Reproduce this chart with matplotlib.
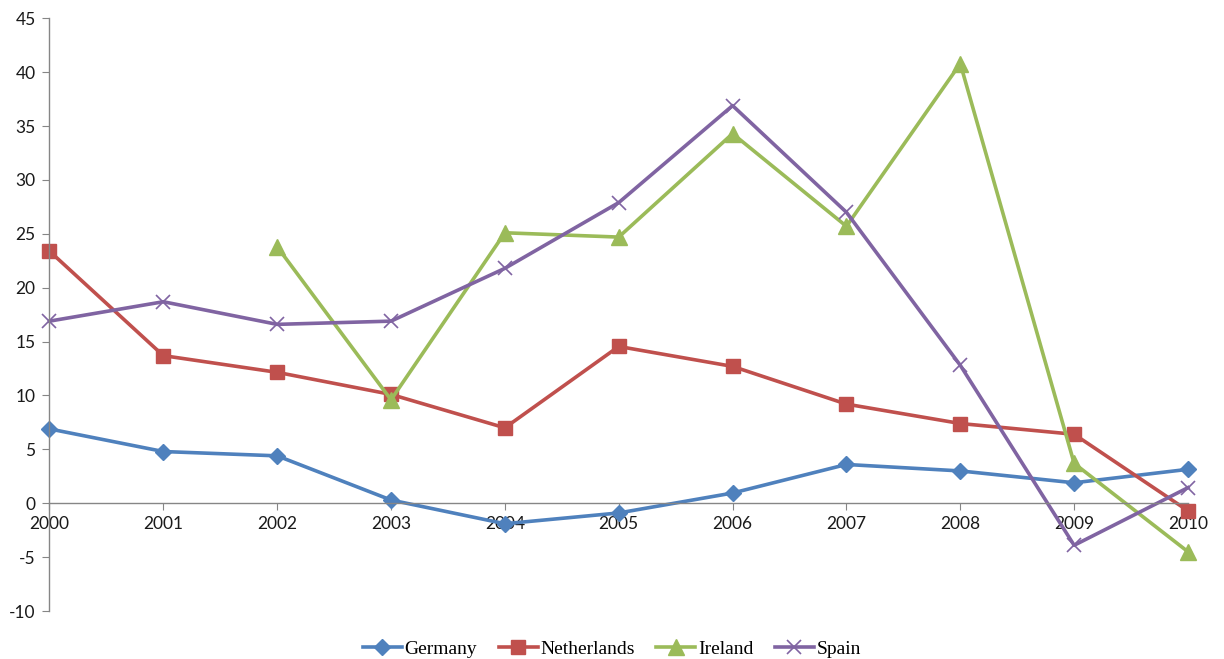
import matplotlib.pyplot as plt
import numpy as np

plt.rcParams['axes.unicode_minus'] = False

years = [2000, 2001, 2002, 2003, 2004, 2005, 2006, 2007, 2008, 2009, 2010]
germany = [6.9, 4.8, 4.4, 0.3, -1.9, -0.9, 0.95, 3.6, 3.0, 1.9, 3.15]
netherlands = [23.4, 13.7, 12.15, 10.1, 7.0, 14.55, 12.7, 9.2, 7.4, 6.4, -0.7]
ireland = [np.nan, np.nan, 23.8, 9.6, 25.1, 24.7, 34.3, 25.7, 40.8, 3.7, -4.5]
spain = [16.9, 18.7, 16.6, 16.9, 21.8, 27.9, 36.9, 27.0, 12.8, -3.9, 1.45]

fig = plt.figure(figsize=(12.24, 6.59), dpi=100)
ax = fig.add_axes([0.0404, 0.0728, 0.9302, 0.8994])

ax.plot(years, germany, color='#4F81BD', lw=2.6, marker='D', ms=8.5, label='Germany', clip_on=False)
ax.plot(years, netherlands, color='#C0504D', lw=2.6, marker='s', ms=9.5, label='Netherlands', clip_on=False)
ax.plot(years, ireland, color='#9BBB59', lw=2.6, marker='^', ms=11, label='Ireland', clip_on=False)
ax.plot(years, spain, color='#8064A2', lw=2.6, marker='x', ms=10, mew=1.2, label='Spain', clip_on=False)

ax.set_xlim(2000, 2010)
ax.set_ylim(-10, 45)
ax.set_yticks(np.arange(-10, 46, 5))
ax.set_xticks(years)

for s in ['top', 'right']:
    ax.spines[s].set_visible(False)
ax.spines['bottom'].set_position(('data', 0))
for s in ['left', 'bottom']:
    ax.spines[s].set_color('#868686')
    ax.spines[s].set_linewidth(1)

ax.tick_params(axis='both', direction='out', length=5, color='#868686',
               labelsize=12.5, labelcolor='#1a1a1a')
ax.tick_params(axis='y', pad=5)
ax.tick_params(axis='x', pad=4)
for lab in ax.get_xticklabels() + ax.get_yticklabels():
    lab.set_family('Lato')

fig.legend(loc='lower center', bbox_to_anchor=(0.5, -0.025), ncol=4, frameon=False,
           prop={'family': 'Liberation Serif', 'size': 14}, handlelength=2.0,
           columnspacing=1.1, handletextpad=0.15)

fig.savefig('out.png', dpi=100)
